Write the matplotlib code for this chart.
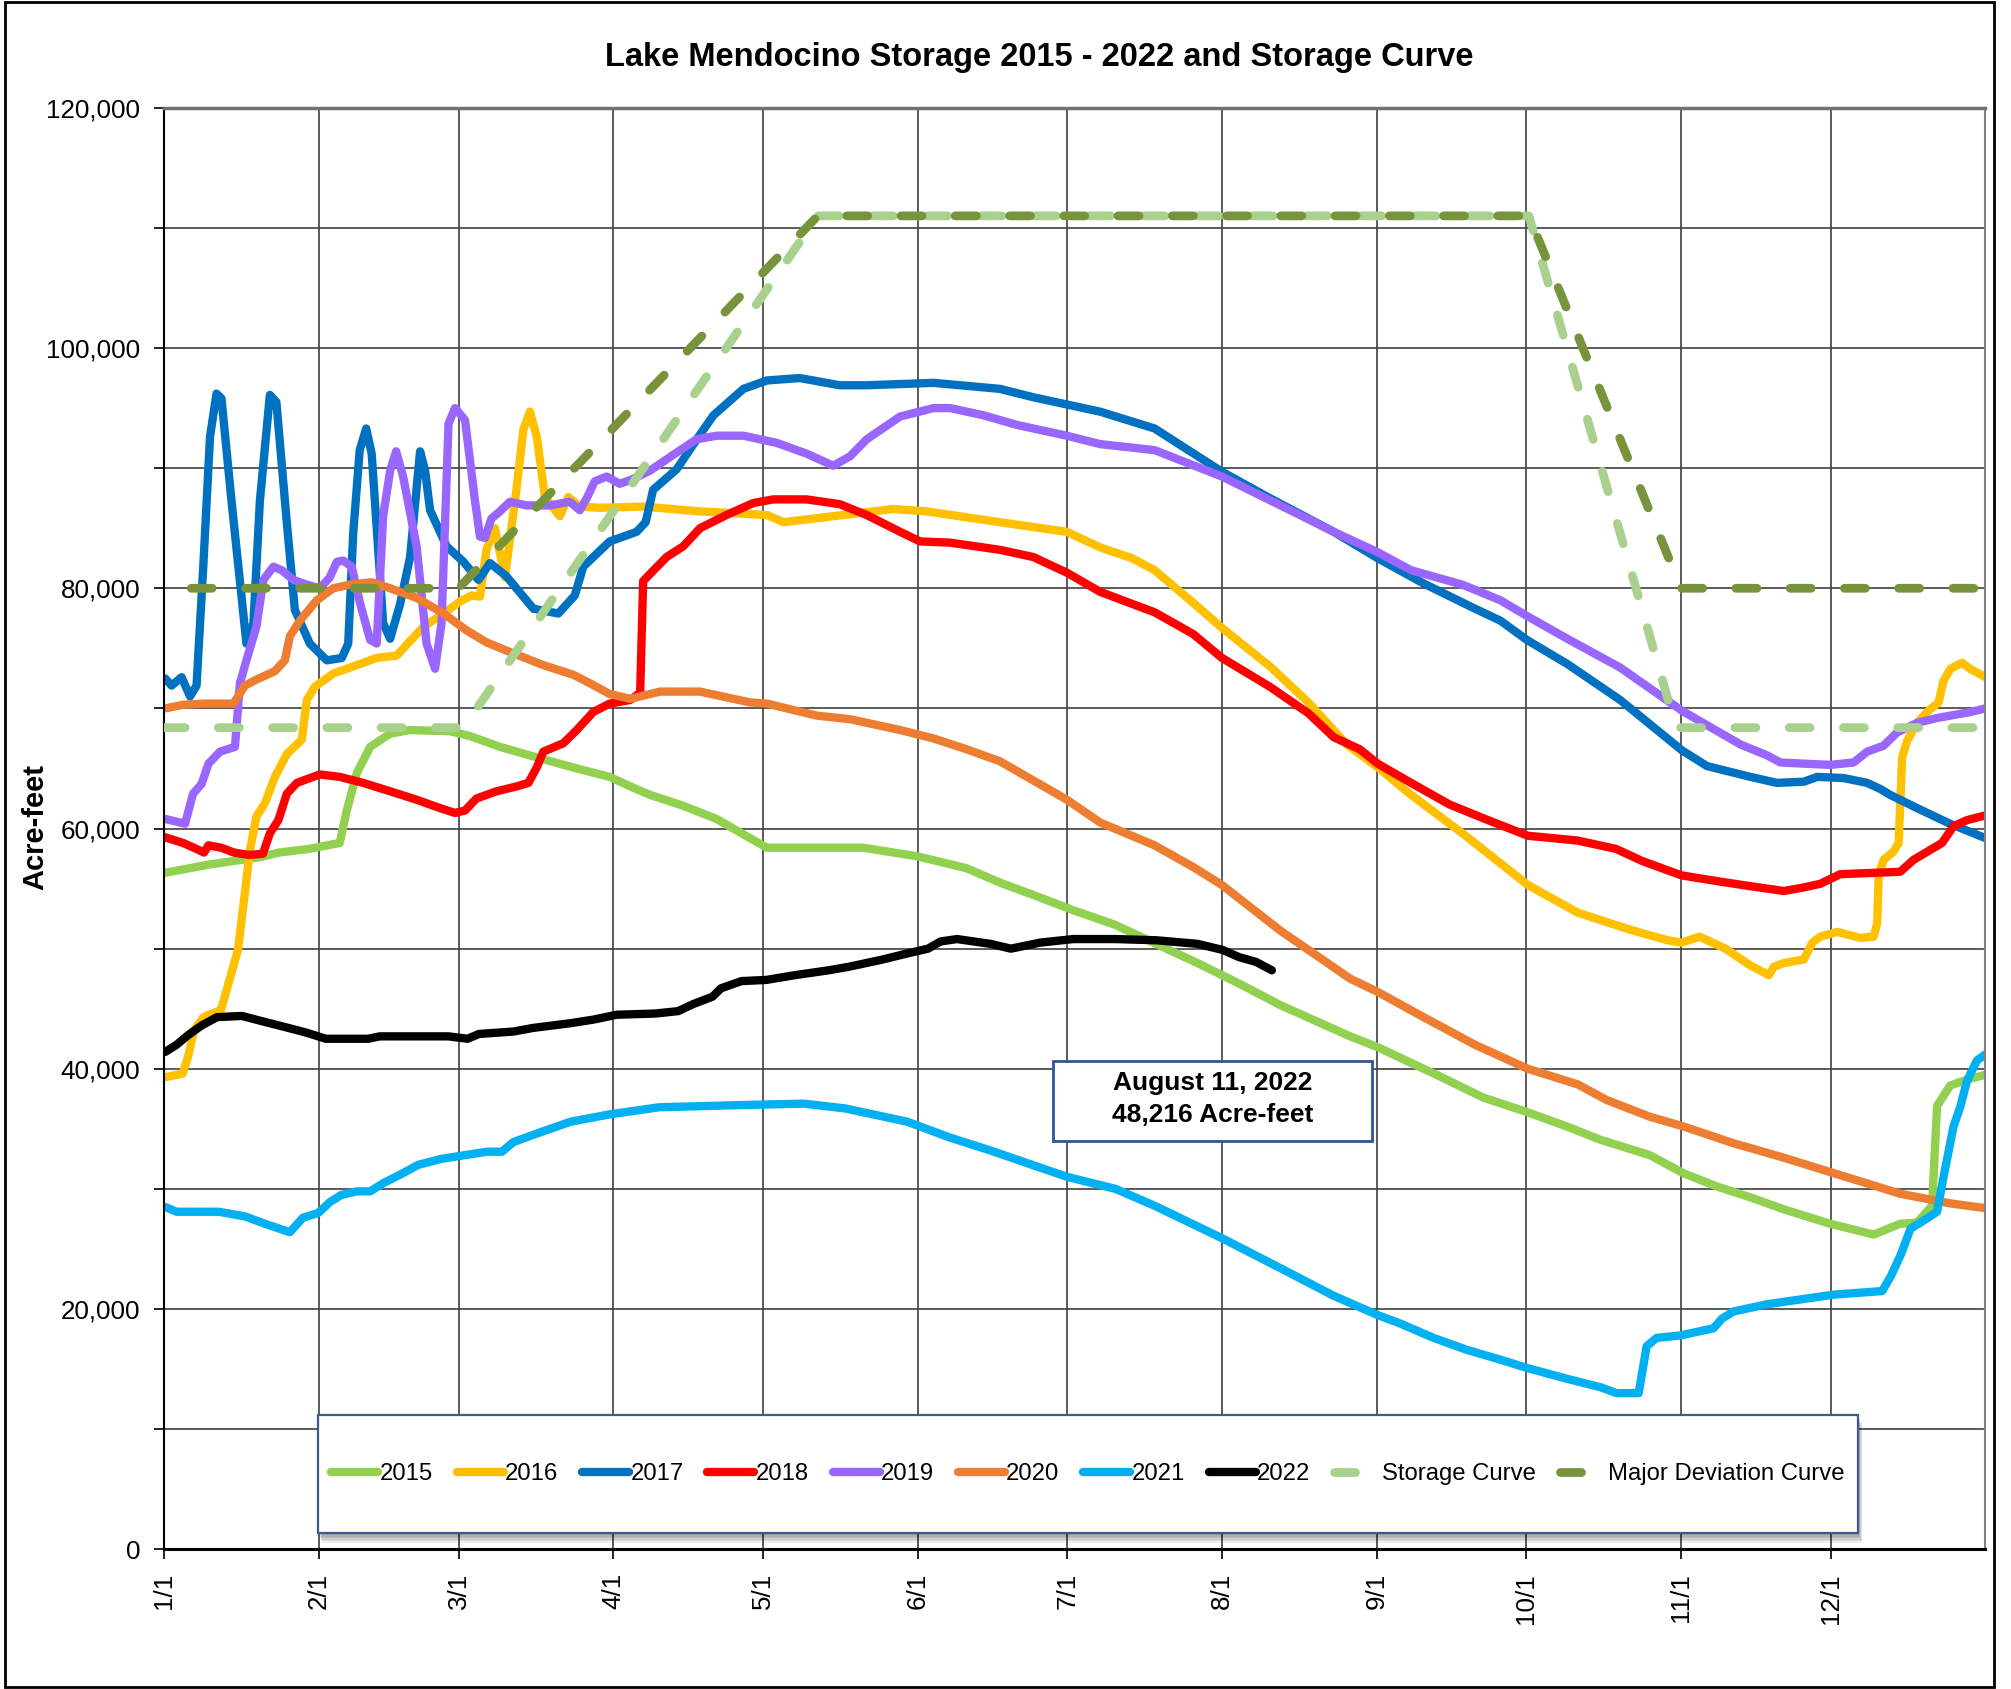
import matplotlib
matplotlib.use("Agg")
import matplotlib.pyplot as plt
from matplotlib import font_manager
from matplotlib.patches import Rectangle
from matplotlib.lines import Line2D
from matplotlib.font_manager import FontProperties

# ---------------- data (day of year, storage in thousand acre-feet) ----------------
days_2015 = [1, 10, 20, 24, 30, 36.2, 37.6, 39.6, 42.3, 46.3, 50.3, 58.3, 62.3, 68.3, 75.0, 83.7, 90.3, 95.0, 98.4,
             105.0, 111.7, 121.8, 128.4, 141.1, 151.8, 161.8, 168.5, 175.0, 183.2, 191.5, 199.8, 208.1, 216.4, 224.7,
             238.7, 244.2, 256.0, 265.4, 274.1, 282.1, 288.8, 298.8, 305.5, 312.2, 318.9, 325.6, 334.9, 343.6, 348.9,
             352.3, 355.3, 356.3, 358.9, 362.3, 366]
vals_2015 = [56.3, 57.0, 57.6, 58.0, 58.3, 58.8, 61.5, 64.6, 66.8, 67.9, 68.2, 68.1, 67.7, 66.8, 66.0, 65.0, 64.3, 63.4, 62.8,
             61.9, 60.8, 58.4, 58.4, 58.4, 57.7, 56.7, 55.5, 54.5, 53.2, 52.0, 50.4, 48.8, 47.1, 45.3,
             42.7, 41.8, 39.5, 37.6, 36.4, 35.2, 34.1, 32.8, 31.3, 30.2, 29.3, 28.3, 27.1, 26.2, 27.1,
             27.2, 28.6, 36.9, 38.6, 39.1, 39.5]

days_2016 = [1.2, 4.7, 5.8, 7.0, 8.9, 12.4, 13.9, 15.8, 17.0, 18.2, 19.5, 21.2, 23.2, 25.6, 28.6, 29.6, 31.2, 34.9, 39.6,
             43.6, 47.6, 49.6, 53.0, 57.0, 60.3, 62.6, 64.3, 65.6, 67.3, 69.3, 71.6, 73.0, 74.3, 75.7, 77.3, 80.3,
             82.0, 84.3, 88.4, 97.0, 108.4, 121.8, 125.1, 135.1, 147.1, 153.8, 168.5, 181.9, 188.6, 195.0, 199.5,
             207.2, 213.0, 222.6, 230.3, 238.0, 244.2, 250.9, 261.2, 274.3, 284.3, 294.6, 302.3, 305.1, 308.7, 313.9,
             318.9, 322.6, 323.6, 325.6, 329.6, 331.3, 332.9, 336.3, 340.9, 343.6, 344.3, 344.6, 345.6, 347.6, 348.6,
             349.3, 350.3, 352.3, 354.3, 356.6, 357.6, 359.0, 361.3, 362.9, 366]
vals_2016 = [39.3, 39.6, 41.0, 43.2, 44.3, 44.9, 47.1, 49.9, 54.0, 58.2, 61.0, 62.1, 64.3, 66.2, 67.4, 70.7, 71.8, 72.9, 73.6,
             74.2, 74.4, 75.3, 76.8, 77.9, 78.9, 79.4, 79.3, 83.2, 85.0, 80.9, 88.2, 93.2, 94.7, 92.6, 87.6, 86.0,
             87.6, 86.8, 86.7, 86.8, 86.4, 86.1, 85.5, 86.0, 86.6, 86.4, 85.5, 84.7, 83.4, 82.5, 81.5,
             78.8, 76.7, 73.5, 70.5, 67.0, 65.1, 62.8, 59.6, 55.3, 53.0, 51.6, 50.7, 50.5, 51.0, 50.0,
             48.6, 47.8, 48.5, 48.8, 49.1, 50.5, 51.0, 51.4, 50.9, 51.0, 52.1, 56.2, 57.4, 58.1, 58.8,
             65.9, 67.3, 68.8, 69.7, 70.5, 72.3, 73.3, 73.8, 73.3, 72.6]

days_2017 = [1.2, 2.5, 4.5, 6.2, 7.5, 8.85, 10.2, 11.5, 12.5, 14.5, 17.5, 18.9, 20.2, 22.2, 23.5, 25.5, 27.2, 30.2, 33.6,
             36.6, 37.9, 38.9, 40.2, 41.5, 42.6, 44.9, 46.3, 48.3, 50.3, 52.3, 53.3, 54.3, 57.6, 61.0, 64.0, 66.3,
             69.6, 75.0, 80.0, 83.3, 85.0, 90.3, 95.7, 97.5, 99.0, 103.7, 108.4, 111.1, 117.1, 121.8, 128.4, 136.4,
             141.8, 155.2, 168.5, 175.2, 188.6, 199.5, 213.0, 222.6, 235.4, 244.2, 253.4, 263.7, 268.8, 274.1, 282.2,
             292.8, 305.2, 310.2, 318.9, 324.2, 329.6, 332.3, 337.6, 342.3, 344.9, 346.9, 352.3, 358.9, 366]
vals_2017 = [72.5, 71.9, 72.6, 71.0, 71.9, 81.8, 92.6, 96.2, 95.8, 87.3, 75.4, 77.1, 87.3, 96.1, 95.5, 85.9, 78.2, 75.4, 74.0,
             74.2, 75.4, 84.6, 91.5, 93.3, 91.2, 77.1, 75.8, 78.7, 82.6, 91.4, 89.8, 86.5, 83.5, 82.2, 80.7, 82.1,
             81.0, 78.3, 77.9, 79.4, 81.8, 83.9, 84.7, 85.5, 88.2, 89.9, 92.8, 94.4, 96.6, 97.3, 97.5, 96.9,
             96.9, 97.1, 96.6, 95.9, 94.7, 93.3, 89.7, 87.5, 84.7, 82.5, 80.4, 78.3, 77.3, 75.7, 73.7,
             70.7, 66.5, 65.2, 64.3, 63.8, 63.9, 64.3, 64.2, 63.8, 63.3, 62.8, 61.7, 60.4, 59.2]

days_2018 = [1, 4.8, 7.5, 9.0, 9.9, 12.5, 15.0, 18.0, 20.8, 22.2, 23.9, 25.6, 27.6, 32.2, 36.2, 40.9, 46.3, 51.6, 56.3,
             59.3, 61.3, 63.6, 67.6, 71.6, 74.0, 75.7, 77.0, 81.0, 83.7, 87.0, 90.3, 94.4, 96.4, 97.0, 98.4, 101.7,
             105.05, 108.4, 113.7, 119.1, 123.1, 129.8, 136.4, 141.8, 148.5, 152.5, 158.5, 168.5, 175.2, 181.9, 188.6,
             199.5, 207.2, 213.0, 222.6, 230.3, 235.4, 240.6, 244.2, 250.9, 258.6, 266.3, 274.3, 284.3, 292.0, 297.2,
             305.1, 312.6, 318.9, 325.6, 329.6, 332.9, 336.9, 348.9, 351.6, 357.3, 359.6, 362.3, 366]
vals_2018 = [59.3, 58.8, 58.3, 58.0, 58.6, 58.4, 58.0, 57.8, 57.9, 59.6, 60.7, 62.9, 63.8, 64.5, 64.3, 63.8, 63.1, 62.4, 61.7,
             61.3, 61.5, 62.5, 63.1, 63.5, 63.8, 65.1, 66.4, 67.1, 68.2, 69.7, 70.4, 70.7, 71.3, 80.6, 81.2, 82.6,
             83.5, 85.0, 86.1, 87.1, 87.4, 87.4, 87.0, 86.1, 84.7, 83.9, 83.8, 83.2, 82.6, 81.3, 79.7,
             78.0, 76.2, 74.2, 71.8, 69.6, 67.6, 66.6, 65.4, 63.8, 62.0, 60.7, 59.4, 59.0, 58.3, 57.3,
             56.1, 55.6, 55.2, 54.8, 55.1, 55.4, 56.2, 56.4, 57.4, 58.8, 60.2, 60.7, 61.1]

days_2019 = [1.2, 5.2, 6.8, 8.5, 9.9, 12.2, 15.2, 16.2, 17.5, 19.5, 20.9, 22.9, 24.6, 26.9, 29.6, 32.2, 34.2, 35.6, 36.9,
             38.6, 40.3, 42.3, 43.6, 44.9, 46.3, 47.5, 48.9, 51.6, 53.6, 55.3, 56.6, 58.0, 59.3, 61.3, 63.3, 64.3,
             65.3, 66.6, 68.3, 70.3, 73.6, 78.3, 82.3, 84.3, 85.7, 87.3, 89.7, 92.3, 95.0, 98.4, 103.0, 107.7, 111.7,
             117.1, 123.8, 129.8, 135.1, 138.5, 141.8, 148.5, 155.2, 158.5, 165.2, 171.9, 181.9, 188.6, 199.5, 213.0,
             225.2, 235.4, 244.2, 250.9, 261.2, 268.8, 274.1, 282.2, 292.8, 305.2, 316.9, 322.2, 324.9, 329.6, 334.9,
             339.6, 342.3, 345.6, 348.3, 352.3, 356.3, 360.3, 363.0, 366]
vals_2019 = [60.8, 60.4, 62.9, 63.7, 65.4, 66.4, 66.8, 72.1, 74.0, 76.8, 80.7, 81.8, 81.5, 80.7, 80.3, 80.0, 80.9, 82.2, 82.3,
             81.8, 78.7, 75.7, 75.4, 86.0, 89.8, 91.4, 89.3, 83.5, 75.4, 73.3, 77.1, 93.7, 95.0, 94.0, 87.3, 84.3,
             84.2, 85.8, 86.4, 87.2, 86.9, 86.9, 87.2, 86.5, 87.5, 88.9, 89.3, 88.7, 89.1, 89.8, 91.1, 92.4, 92.7,
             92.7, 92.1, 91.2, 90.2, 91.0, 92.4, 94.3, 95.0, 95.0, 94.4, 93.6, 92.7, 92.0, 91.5, 89.3,
             86.8, 84.7, 83.0, 81.5, 80.3, 79.0, 77.7, 75.8, 73.4, 69.8, 67.0, 66.1, 65.5, 65.4, 65.3,
             65.5, 66.4, 66.9, 68.0, 68.8, 69.2, 69.5, 69.7, 70.0]

days_2020 = [1.2, 4.8, 8.9, 14.9, 17.2, 19.5, 23.2, 25.2, 26.2, 28.2, 31.6, 34.9, 38.2, 42.6, 46.3, 51.6, 57.0, 61.6, 65.6,
             70.3, 77.0, 83.0, 86.3, 90.3, 94.4, 100.4, 108.4, 118.4, 121.8, 131.8, 138.5, 148.5, 155.2, 161.8, 168.5,
             175.2, 181.9, 188.6, 199.5, 207.2, 213.0, 224.7, 238.7, 244.2, 253.4, 263.7, 274.3, 284.3, 290.1, 298.8,
             305.5, 315.5, 318.9, 325.6, 334.9, 344.3, 348.9, 358.9, 366]
vals_2020 = [70.0, 70.3, 70.4, 70.4, 71.9, 72.4, 73.1, 74.0, 76.0, 77.3, 79.0, 80.0, 80.3, 80.5, 80.0, 79.2, 77.9, 76.5, 75.5,
             74.7, 73.6, 72.8, 72.1, 71.2, 70.8, 71.4, 71.4, 70.5, 70.4, 69.4, 69.1, 68.2, 67.5, 66.6, 65.6,
             64.0, 62.4, 60.5, 58.6, 56.8, 55.3, 51.5, 47.5, 46.4, 44.3, 42.0, 40.0, 38.7, 37.4, 36.0,
             35.2, 33.8, 33.4, 32.6, 31.4, 30.2, 29.6, 28.8, 28.4]

days_2021 = [1.2, 3.5, 12.0, 17.3, 21.2, 26.2, 28.8, 31.9, 34.2, 36.5, 39.6, 42.3, 45.0, 48.8, 51.9, 56.5, 61.1, 65.7, 68.7,
             71.0, 75.6, 82.5, 90.2, 100.2, 109.4, 118.4, 129.2, 137.5, 149.9, 158.3, 166.6, 182.0, 191.7, 199.5, 213.0,
             225.2, 235.4, 244.2, 248.7, 255.4, 262.1, 268.7, 274.1, 282.1, 288.8, 292.1, 296.5, 298.1, 300.1, 304.8,
             311.5, 313.2, 315.5, 322.2, 328.9, 335.6, 345.3, 347.0, 349.0, 351.0, 353.0, 356.3, 357.6, 359.6, 361.0,
             362.3, 364.3, 366]
vals_2021 = [28.5, 28.1, 28.1, 27.7, 27.1, 26.4, 27.6, 28.0, 28.9, 29.5, 29.8, 29.8, 30.5, 31.3, 32.0, 32.5, 32.8, 33.1, 33.1,
             33.9, 34.6, 35.6, 36.2, 36.8, 36.9, 37.0, 37.1, 36.7, 35.6, 34.3, 33.2, 31.0, 30.0, 28.6, 25.9,
             23.3, 21.1, 19.5, 18.8, 17.6, 16.6, 15.8, 15.1, 14.2, 13.5, 13.0, 13.0, 16.9, 17.6, 17.8,
             18.4, 19.2, 19.8, 20.4, 20.8, 21.2, 21.5, 22.7, 24.5, 26.7, 27.2, 28.1, 31.0, 35.2, 36.9,
             39.0, 40.7, 41.2]

days_2022 = [1.2, 3.5, 5.8, 8.5, 11.6, 16.6, 21.2, 25.0, 29.6, 33.4, 41.9, 44.2, 58.0, 61.8, 64.1, 71.0, 74.9, 82.5, 87.1,
             91.7, 99.4, 104.0, 107.1, 110.9, 112.6, 116.7, 121.7, 127.5, 134.2, 138.3, 145.0, 149.9, 154.1, 156.6,
             159.9, 166.6, 170.7, 176.5, 183.2, 191.5, 199.8, 208.1, 213.1, 216.4, 219.8, 223.0]
vals_2022 = [41.4, 42.0, 42.8, 43.6, 44.3, 44.4, 43.9, 43.5, 43.0, 42.5, 42.5, 42.7, 42.7, 42.5, 42.9, 43.1, 43.4, 43.8, 44.1,
             44.5, 44.6, 44.8, 45.4, 46.0, 46.7, 47.3, 47.4, 47.8, 48.2, 48.5, 49.1, 49.6, 50.0, 50.6,
             50.8, 50.4, 50.0, 50.5, 50.8, 50.8, 50.7, 50.4, 49.9, 49.3, 48.9, 48.2]

days_storage = [1, 61, 132, 274.5, 304, 366]
vals_storage = [68.4, 68.4, 111.0, 111.0, 68.4, 68.4]
days_major = [1, 60, 132, 274.5, 305, 366]
vals_major = [80.0, 80.0, 111.0, 111.0, 80.0, 80.0]

month_days = [1, 32, 60, 91, 121, 152, 182, 213, 244, 274, 305, 335]
month_labels = ["1/1", "2/1", "3/1", "4/1", "5/1", "6/1", "7/1", "8/1", "9/1", "10/1", "11/1", "12/1"]
y_ticks = list(range(0, 120001, 10000))

title = "Lake Mendocino Storage 2015 - 2022 and Storage Curve"
note_lines = ["August 11, 2022", "48,216 Acre-feet"]

series = [
    ("2015", days_2015, vals_2015, "#92D050"),
    ("2016", days_2016, vals_2016, "#FFC000"),
    ("2017", days_2017, vals_2017, "#0070C0"),
    ("2018", days_2018, vals_2018, "#FF0000"),
    ("2019", days_2019, vals_2019, "#9966FF"),
    ("2020", days_2020, vals_2020, "#ED7D31"),
    ("2021", days_2021, vals_2021, "#00B0F0"),
    ("2022", days_2022, vals_2022, "#000000"),
]
curves = [
    ("Storage Curve", days_storage, vals_storage, "#A9D18E"),
    ("Major Deviation Curve", days_major, vals_major, "#77933C"),
]


# ---------------- fonts ----------------
def _weight_num(w):
    if isinstance(w, (int, float)):
        return int(w)
    table = {"regular": 400, "normal": 400, "book": 400, "medium": 500, "semibold": 600, "demibold": 600,
             "bold": 700, "extra bold": 800, "heavy": 800, "black": 900, "light": 300}
    return table.get(str(w).lower(), 400)


def find_font(keys, weight):
    for key in keys:
        for f in font_manager.fontManager.ttflist:
            nm = f.name.lower().replace(" ", "").replace("-", "")
            if key in nm and f.style == "normal" and _weight_num(f.weight) == weight:
                return f.fname
    return None


REG = "Liberation Sans"
KEYS = ["liberationsansnarrow", "arialnarrow", "notosanssemicondensed", "opensanssemicondensed"]
nb = find_font(KEYS, 700)
nr = find_font(KEYS, 400)
if nb and nr:
    fp_title = FontProperties(fname=nb, size=25.0)
    fp_ylab = FontProperties(fname=nb, size=22.0)
    fp_leg = FontProperties(fname=nr, size=18.4)
    leg_size_px = 18.4 * 100 / 72
else:
    fp_title = FontProperties(family=REG, weight="bold", size=23.5)
    fp_ylab = FontProperties(family=REG, weight="bold", size=21.0)
    fp_leg = FontProperties(family=REG, size=17.2)
    leg_size_px = 17.2 * 100 / 72

# ---------------- figure ----------------
W, H = 2011, 1689
fig = plt.figure(figsize=(W / 100, H / 100), dpi=100)
ax = fig.add_axes([0.0816, 0.0827, 0.9057, 0.8535])

LW = 6.0
DLW = 6.3
DASH = (0, (2.4, 3.8))
DASH_MAJOR = (3.1, (2.4, 3.8))
handles = []
for name, d, v, c in series:
    ax.plot(d, [x * 1000 for x in v], color=c, lw=LW, solid_joinstyle="round", solid_capstyle="round", zorder=2)
    handles.append(Line2D([], [], color=c, lw=LW, solid_capstyle="round"))
for (name, d, v, c), ls in zip(curves, [DASH, DASH_MAJOR]):
    ax.plot(d, [x * 1000 for x in v], color=c, lw=DLW, linestyle=ls, dash_capstyle="round", zorder=3)
    handles.append(Line2D([], [], color=c, lw=DLW, linestyle=DASH, dash_capstyle="round"))
labels = [s[0] for s in series] + [c[0] for c in curves]

ax.set_xlim(1, 366)
ax.set_ylim(0, 120000)
ax.set_xticks(month_days)
ax.set_xticklabels(month_labels, rotation=90, fontsize=18.7, family=REG)
ax.set_yticks(y_ticks)
ax.set_yticklabels([f"{t:,}" if t % 20000 == 0 else "" for t in y_ticks], fontsize=18.7, family=REG)
ax.tick_params(axis="x", direction="out", length=7, width=1.2, pad=10)
ax.tick_params(axis="y", direction="out", length=7, width=1.2, pad=10)

ax.grid(True, color="#404040", lw=1.2)
ax.set_axisbelow(True)
ax.spines["left"].set_color("black")
ax.spines["left"].set_linewidth(1.5)
ax.spines["bottom"].set_color("black")
ax.spines["bottom"].set_linewidth(2.2)
ax.spines["top"].set_color("#707070")
ax.spines["top"].set_linewidth(2.5)
ax.spines["right"].set_color("#808080")
ax.spines["right"].set_linewidth(1.5)

# ---------------- legend box with shadow ----------------
px_x = 1 / 1821.2
px_y = 1 / 1441.6
lx0, ly0, lw_, lh_ = 0.0845, 0.0113, 0.8456, 0.0819
for i in range(6):
    ax.add_patch(Rectangle((lx0 + (1 + i * 0.6) * px_x, ly0 - (2 + i * 1.6) * px_y), lw_, lh_,
                           transform=ax.transAxes, facecolor="black", edgecolor="none",
                           alpha=0.07, zorder=3.5, clip_on=False))
ax.add_patch(Rectangle((lx0, ly0), lw_, lh_, transform=ax.transAxes, facecolor="white",
                       edgecolor="#3C5A8C", lw=1.6, zorder=4, clip_on=False))
leg = ax.legend(handles, labels, ncol=10, loc="center", bbox_to_anchor=(0.5073, 0.0522),
                frameon=False, handlelength=47 / leg_size_px, handletextpad=0.05, columnspacing=1.0,
                prop=fp_leg)
leg.set_zorder(5)

# ---------------- annotation box ----------------
ax.add_patch(Rectangle((0.4882, 0.2834), 0.1748, 0.0555, transform=ax.transAxes, facecolor="white",
                       edgecolor="#2F5597", lw=2, zorder=4))
ax.text(0.5756, 0.3235, note_lines[0], transform=ax.transAxes, ha="center", va="center",
        fontsize=19, fontweight="bold", family=REG, zorder=6)
ax.text(0.5756, 0.3013, note_lines[1], transform=ax.transAxes, ha="center", va="center",
        fontsize=19, fontweight="bold", family=REG, zorder=6)

# ---------------- titles ----------------
fig.text(0.517, 0.966, title, ha="center", va="center", fontproperties=fp_title)
fig.text(0.0174, 0.5104, "Acre-feet", rotation=90, ha="center", va="center", fontproperties=fp_ylab)

# figure border
fig.patches.append(Rectangle((5 / W, 2 / H), (1994 - 5) / W, (1687 - 2) / H, transform=fig.transFigure,
                             fill=False, edgecolor="black", lw=2))

fig.savefig("out.png", dpi=100)
